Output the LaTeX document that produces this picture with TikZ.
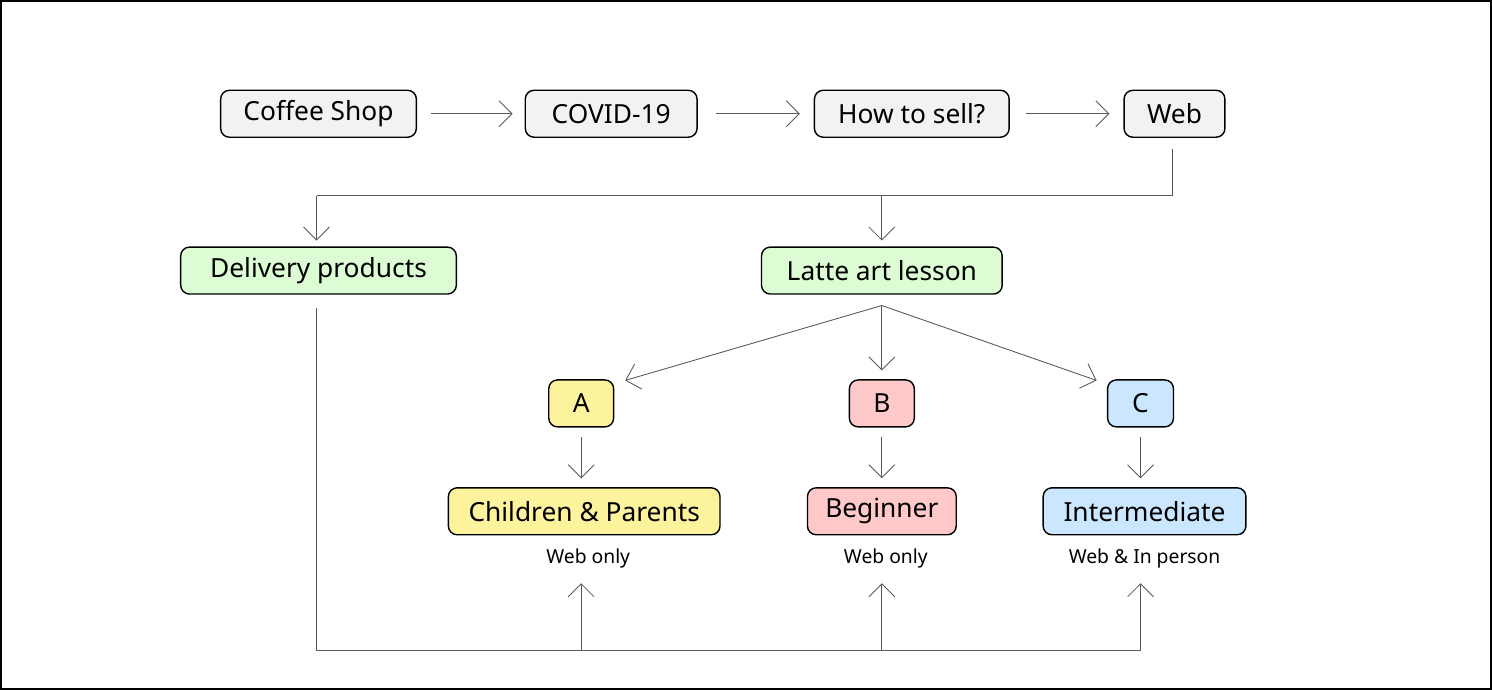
\documentclass[tikz,border=0pt]{standalone}
\usepackage{fontspec}
\setmainfont{Noto Sans}
\usetikzlibrary{arrows.meta, positioning}
\definecolor{boxgray}{HTML}{F2F2F2}
\definecolor{boxgreen}{HTML}{DCFCD4}
\definecolor{boxyellow}{HTML}{FDF39D}
\definecolor{boxpink}{HTML}{FFC9C9}
\definecolor{boxblue}{HTML}{CAE7FF}
\tikzstyle{block} = [rectangle, draw, line width=0.8pt, rounded corners=5pt,
    minimum height=0.94cm, inner xsep=0.3cm, font=\fontsize{15}{18}\selectfont]
\tikzstyle{note} = [font=\fontsize{11}{13}\selectfont]
\tikzstyle{line} = [draw, gray!70!black, line width=0.5pt, -{Straight Barb[length=2.6mm,width=5.2mm]}]
\tikzstyle{plain} = [draw, gray!70!black, line width=0.5pt]
\begin{document}
\begin{tikzpicture}[x=0.02cm, y=-0.02cm]
      \draw[line width=1pt] (0,0) rectangle (1492,689);
      % Top row
      \node [block, fill=boxgray, minimum width=3.92cm] (shop) at (318,113) {Coffee Shop};
      \node [block, fill=boxgray, minimum width=3.44cm] (covid) at (611,113) {COVID-19};
      \node [block, fill=boxgray, minimum width=3.9cm] (sell) at (912,113) {How to sell?};
      \node [block, fill=boxgray, minimum width=2.02cm] (web) at (1175,113) {Web};
      % Second row
      \node [block, fill=boxgreen, minimum width=5.52cm] (delivery) at (318,270) {Delivery products};
      \node [block, fill=boxgreen, minimum width=4.82cm] (latte) at (882,270) {Latte art lesson};
      % Levels
      \node [block, fill=boxyellow, minimum width=1.3cm] (a) at (581,403) {A};
      \node [block, fill=boxpink, minimum width=1.3cm] (b) at (882,403) {B};
      \node [block, fill=boxblue, minimum width=1.32cm] (c) at (1141,403) {C};
      \node [block, fill=boxyellow, minimum width=5.44cm] (children) at (584,511) {Children \& Parents};
      \node [block, fill=boxpink, minimum width=2.98cm] (beginner) at (882,511) {Beginner};
      \node [block, fill=boxblue, minimum width=4.06cm] (intermediate) at (1145,511) {Intermediate};
      \node [note] (weba) at (588,558) {Web only};
      \node [note] (webb) at (886,558) {Web only};
      \node [note] (webc) at (1145,558) {Web \& In person};
      % Coordinates
      \coordinate (split) at (1173,195);
      \coordinate (bottom) at (316,650);
      % Draw edges
      \path [line] ([xshift=0.28cm]shop.east) -- ([xshift=-0.24cm]covid.west);
      \path [line] ([xshift=0.36cm]covid.east) -- ([xshift=-0.28cm]sell.west);
      \path [line] ([xshift=0.32cm]sell.east) -- ([xshift=-0.28cm]web.west);
      \path [plain] (1173,148) -- (split) -- (316,195);
      \path [line] (316,195) -- (316,240);
      \path [line] (882,195) -- (882,240);
      \path [line] (882,305) -- (625,380);
      \path [line] (882,305) -- (882,370);
      \path [line] (882,305) -- (1097,380);
      \path [line] (581,437) -- (581,478);
      \path [line] (882,437) -- (882,478);
      \path [line] (1141,437) -- (1141,478);
      \path [plain] (316,307) -- (bottom) -- (1141,650);
      \path [line] (581,650) -- (581,583);
      \path [line] (882,650) -- (882,583);
      \path [line] (1141,650) -- (1141,583);
\end{tikzpicture}
\end{document}
